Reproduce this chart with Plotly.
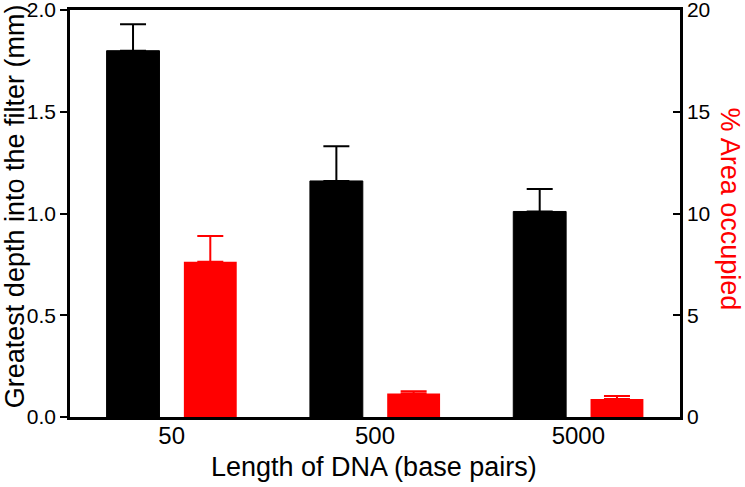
import plotly.graph_objects as go

categories = ["50", "500", "5000"]
depth_mm = [1.80, 1.16, 1.01]
depth_err = [0.13, 0.17, 0.11]
area_pct = [7.63, 1.16, 0.88]
area_err = [1.26, 0.10, 0.15]

x = list(range(len(categories)))
FONT = "Liberation Sans, Arial, sans-serif"

fig = go.Figure()
fig.add_trace(go.Bar(
    x=x, y=depth_mm, width=0.26, offset=-0.32,
    marker=dict(color="black", line=dict(color="black", width=1)),
    error_y=dict(type="data", array=depth_err, symmetric=False, arrayminus=[0]*3,
                 color="black", thickness=2, width=13),
    yaxis="y", showlegend=False,
))
fig.add_trace(go.Bar(
    x=x, y=area_pct, width=0.26, offset=0.06,
    marker=dict(color="#ff0000", line=dict(color="#ff0000", width=0)),
    error_y=dict(type="data", array=area_err, symmetric=False, arrayminus=[0]*3,
                 color="#ff0000", thickness=2, width=13),
    yaxis="y2", showlegend=False,
))

fig.update_layout(
    width=745, height=487,
    margin=dict(l=70, r=65, t=10, b=70, autoexpand=False),
    plot_bgcolor="white", paper_bgcolor="white",
    barmode="overlay",
    font=dict(family=FONT, size=21, color="black"),
    xaxis=dict(
        range=[-0.5, 2.5], tickmode="array", tickvals=x, ticktext=categories,
        showline=True, linecolor="black", linewidth=2.5, mirror=True,
        ticks="", showgrid=False, zeroline=False, automargin=False,
        tickfont=dict(size=24), ticklabelstandoff=-5,
    ),
    yaxis=dict(
        range=[0, 2.0], tickvals=[0, 0.5, 1.0, 1.5, 2.0], tickformat=".1f",
        showline=True, linecolor="black", linewidth=2.5,
        ticks="outside", ticklen=7, tickwidth=2, tickcolor="black",
        showgrid=False, zeroline=False, automargin=False,
        tickfont=dict(size=21), ticklabeloverflow="allow",
    ),
    yaxis2=dict(
        range=[0, 20], tickvals=[0, 5, 10, 15, 20], overlaying="y", side="right",
        showline=True, linecolor="black", linewidth=2.5,
        ticks="inside", ticklen=7, tickwidth=2, tickcolor="black",
        showgrid=False, zeroline=False, automargin=False,
        tickfont=dict(size=21), ticklabeloverflow="allow",
    ),
    annotations=[
        dict(text="Greatest depth into the filter (mm)", textangle=-90,
             font=dict(color="black", size=27, family=FONT),
             xref="paper", yref="paper", x=0, y=0.518, xshift=-55, xanchor="center", yanchor="middle",
             showarrow=False),
        dict(text="% Area occupied", textangle=90,
             font=dict(color="#ff0000", size=27, family=FONT),
             xref="paper", yref="paper", x=1.0, y=0.512, xshift=50, xanchor="center", yanchor="middle",
             showarrow=False),
        dict(text="Length of DNA (base pairs)",
             font=dict(color="black", size=27, family=FONT),
             xref="paper", yref="paper", x=0.499, y=0, yshift=-50, xanchor="center", yanchor="middle",
             showarrow=False),
    ],
)

fig.write_html("out.html", config={"displayModeBar": False},
               post_script="document.body.style.margin='0px';")
